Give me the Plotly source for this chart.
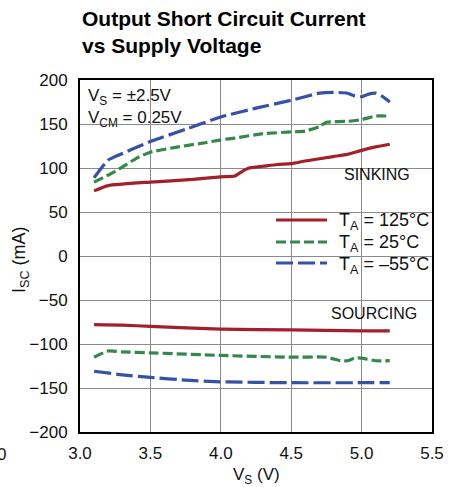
import plotly.graph_objects as go

# ---------------- data ----------------
x_red_sink = [3.1, 3.2, 3.5, 3.8, 4.0, 4.1, 4.15, 4.2, 4.3, 4.4, 4.5, 4.6, 4.8, 4.9, 5.0, 5.1, 5.2]
y_red_sink = [74, 80, 84, 87, 90, 91, 96, 100, 102, 104, 105, 108, 113, 115.5, 120, 124, 127]

x_green_sink = [3.1, 3.2, 3.3, 3.4, 3.5, 3.7, 3.9, 4.0, 4.1, 4.3, 4.5, 4.6, 4.7, 4.75, 4.9, 5.0, 5.1, 5.2]
y_green_sink = [84, 92, 101, 111, 118, 124, 129, 132, 134, 139, 141, 142, 147, 152, 153, 155, 159, 159]

x_blue_sink = [3.1, 3.2, 3.25, 3.5, 3.75, 4.0, 4.25, 4.5, 4.7, 4.8, 4.9, 4.95, 5.0, 5.05, 5.1, 5.15, 5.2]
y_blue_sink = [89, 109, 113, 130, 144, 158, 168, 177, 185, 186, 185, 182, 181, 184, 185, 181, 175]

x_red_src = [3.1, 3.3, 3.5, 4.0, 4.5, 5.0, 5.2]
y_red_src = [-78, -78.5, -80, -83, -84, -85, -85]

x_green_src = [3.1, 3.2, 3.3, 3.5, 4.0, 4.5, 4.75, 4.85, 4.9, 4.95, 5.0, 5.1, 5.2]
y_green_src = [-115, -108, -109, -110, -113, -115, -115, -119, -119, -116, -116, -119, -119]

x_blue_src = [3.1, 3.3, 3.5, 3.75, 4.0, 4.5, 5.0, 5.2]
y_blue_src = [-131, -135, -138, -141, -143, -144, -144, -144]

x_ticks = [3.0, 3.5, 4.0, 4.5, 5.0, 5.5]
x_tick_labels = ["3.0", "3.5", "4.0", "4.5", "5.0", "5.5"]
y_ticks = [-200, -150, -100, -50, 0, 50, 100, 150, 200]

legend_labels = ["T<sub>A</sub> = 125°C", "T<sub>A</sub> = 25°C", "T<sub>A</sub> = –55°C"]

# ---------------- style ----------------
W, H = 461, 487
L, R, T, B = 80, 29, 80, 55
RED, GREEN, BLUE = "#a3202a", "#35884a", "#3552a8"
FONT = "Liberation Sans, Arial, sans-serif"
LW = 3.2
DASH_G = "10px,4px"
DASH_B = "17px,5px"

def px(xp):
    return (xp - L) / (W - L - R)

def py(yp):
    return 1 - (yp - T) / (H - T - B)

fig = go.Figure()
series = [
    (x_red_sink, y_red_sink, RED, "solid"),
    (x_green_sink, y_green_sink, GREEN, DASH_G),
    (x_blue_sink, y_blue_sink, BLUE, DASH_B),
    (x_red_src, y_red_src, RED, "solid"),
    (x_green_src, y_green_src, GREEN, DASH_G),
    (x_blue_src, y_blue_src, BLUE, DASH_B),
]
for xs, ys, c, d in series:
    fig.add_trace(go.Scatter(x=xs, y=ys, mode="lines",
                             line=dict(color=c, width=LW, dash=d, shape="spline", smoothing=0.5),
                             showlegend=False, hoverinfo="skip"))

shapes = []
# white boxes hiding gridlines
for (x0, x1, y0, y1) in [(265, 430, 207, 282), (338, 415, 160, 186), (82, 190, 81, 135)]:
    shapes.append(dict(type="rect", xref="paper", yref="paper",
                       x0=px(x0), x1=px(x1), y0=py(y1), y1=py(y0),
                       fillcolor="white", line=dict(width=0), layer="between"))
# legend samples
leg_rows = [220, 242, 263]
for yy, c, d in zip(leg_rows, [RED, GREEN, BLUE], ["solid", DASH_G, DASH_B]):
    shapes.append(dict(type="line", xref="paper", yref="paper",
                       x0=px(276), x1=px(327), y0=py(yy), y1=py(yy),
                       line=dict(color=c, width=LW, dash=d), layer="above"))

annotations = []
for yy, txt in zip(leg_rows, legend_labels):
    annotations.append(dict(xref="paper", yref="paper", x=px(337), y=py(yy + 2),
                            text=txt, showarrow=False, xanchor="left", yanchor="middle",
                            font=dict(family=FONT, size=18, color="#111")))
annotations.append(dict(xref="paper", yref="paper", x=px(377), y=py(174),
                        text="SINKING", showarrow=False, xanchor="center", yanchor="middle",
                        font=dict(family=FONT, size=16, color="#111")))
annotations.append(dict(xref="paper", yref="paper", x=px(374), y=py(313),
                        text="SOURCING", showarrow=False, xanchor="center", yanchor="middle",
                        font=dict(family=FONT, size=16, color="#111")))
annotations.append(dict(xref="paper", yref="paper", x=px(86), y=py(84),
                        text="V<sub>S</sub> = ±2.5V<br>V<sub>CM</sub> = 0.25V",
                        showarrow=False, xanchor="left", yanchor="top", align="left",
                        font=dict(family=FONT, size=17, color="#111")))
annotations.append(dict(xref="paper", yref="paper", x=px(80), y=py(5),
                        text="<b>Output Short Circuit Current<br>vs Supply Voltage</b>",
                        showarrow=False, xanchor="left", yanchor="top", align="left",
                        font=dict(family=FONT, size=21, color="#000")))
annotations.append(dict(xref="paper", yref="paper", x=px(1), y=py(454),
                        text="0", showarrow=False, xanchor="center", yanchor="middle",
                        font=dict(family=FONT, size=17, color="#111")))
# axis titles
annotations.append(dict(xref="paper", yref="paper", x=px(256), y=py(476),
                        text="V<sub>S</sub> (V)", showarrow=False, xanchor="center", yanchor="middle",
                        font=dict(family=FONT, size=17, color="#111")))
annotations.append(dict(xref="paper", yref="paper", x=px(20), y=py(260),
                        text="I<sub>SC</sub> (mA)", showarrow=False, xanchor="center", yanchor="middle",
                        textangle=-90, font=dict(family=FONT, size=18, color="#111")))

fig.update_layout(
    width=W, height=H,
    margin=dict(l=L, r=R, t=T, b=B, autoexpand=False),
    paper_bgcolor="white", plot_bgcolor="white",
    font=dict(family=FONT, size=17, color="#111"),
    shapes=shapes, annotations=annotations,
    showlegend=False,
)
fig.update_xaxes(range=[3.0, 5.5], tickvals=x_ticks, ticktext=x_tick_labels,
                 showgrid=True, gridcolor="#8a8a8a", gridwidth=1.3,
                 showline=True, linecolor="#000", linewidth=2, mirror=True,
                 ticks="", ticklabelstandoff=5, zeroline=False, automargin=False,
                 tickfont=dict(family=FONT, size=17))
fig.update_yaxes(range=[-200, 200], tickvals=y_ticks,
                 showgrid=True, gridcolor="#8a8a8a", gridwidth=1.3,
                 showline=True, linecolor="#000", linewidth=2, mirror=True,
                 ticks="", ticklabelstandoff=7, zeroline=False, automargin=False,
                 tickfont=dict(family=FONT, size=17))

fig.write_html("out.html", config={"displayModeBar": False},
               post_script="document.body.style.margin='0px';")
